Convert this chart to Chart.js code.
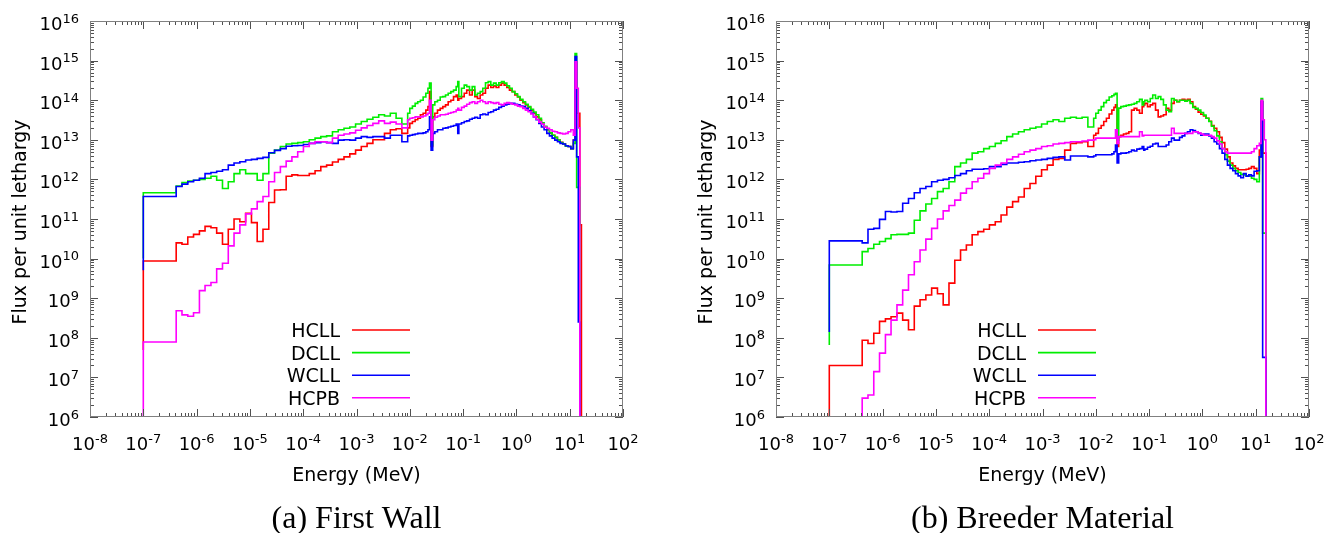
<!DOCTYPE html>
<html>
<head>
<meta charset="utf-8">
<title>Flux per unit lethargy</title>
<script src="https://cdn.jsdelivr.net/npm/chart.js@4.4.1/dist/chart.umd.min.js"></script>
<style>
  html, body { margin:0; padding:0; background:#ffffff; }
  body { width:1339px; height:533px; position:relative; overflow:hidden; }
  .panel { position:absolute; top:0; height:533px; }
  #p1 { left:0; width:668px; }
  #p2 { left:668px; width:671px; }
</style>
</head>
<body>
<div class="panel" id="p1"><canvas id="c1"></canvas></div>
<div class="panel" id="p2"><canvas id="c2"></canvas></div>
<script>
// ---- energy bin edges (MeV) ----
const energyEdges = [
  1e-7, 4.14e-7, 5.32e-7, 6.83e-7, 8.76e-7, 1.13e-6, 1.44e-6, 1.86e-6, 2.38e-6, 3.06e-6,
  3.93e-6, 5.04e-6, 6.48e-6, 8.32e-6, 1.07e-5, 1.37e-5, 1.76e-5, 2.26e-5, 2.90e-5, 3.73e-5,
  4.79e-5, 6.14e-5, 7.89e-5, 1.01e-4, 1.30e-4, 1.67e-4, 2.14e-4, 2.75e-4, 3.54e-4, 4.54e-4,
  5.83e-4, 7.49e-4, 9.61e-4, 1.23e-3, 1.58e-3, 2.03e-3, 2.61e-3, 3.35e-3, 4.31e-3, 5.53e-3,
  7.10e-3, 9.12e-3,
  1.00e-2, 1.12e-2, 1.26e-2, 1.41e-2, 1.58e-2, 1.78e-2, 2.00e-2, 2.19e-2, 2.34e-2, 2.51e-2,
  2.69e-2, 2.95e-2, 3.31e-2, 3.72e-2, 4.17e-2, 4.68e-2, 5.25e-2, 5.89e-2, 6.61e-2, 7.41e-2,
  7.94e-2, 8.32e-2, 9.33e-2, 0.105, 0.117, 0.132, 0.148, 0.166, 0.186, 0.209,
  0.234, 0.263, 0.295, 0.331, 0.372, 0.417, 0.468, 0.525, 0.589, 0.661,
  0.741, 0.832, 0.933, 1.05, 1.17, 1.32, 1.48, 1.66, 1.86, 2.09,
  2.34, 2.63, 2.95, 3.31, 3.72, 4.17, 4.68, 5.25, 5.89, 6.61,
  7.41, 8.32, 9.33, 10.5, 11.7, 12.6, 13.5, 14.5, 15.5, 16.6
];

const seriesNames = ['HCLL', 'DCLL', 'WCLL', 'HCPB'];

// ---- (a) First Wall: flux per unit lethargy in each bin ----
const fwHCLL = [
  8.7e9, 2.5e10, 2.3e10, 3.5e10, 4.1e10, 5.0e10, 6.5e10, 6.0e10, 4.4e10, 2.3e10,
  5.5e10, 1.0e11, 8.5e10, 1.4e11, 8.1e10, 2.7e10, 5.5e10, 2.6e11, 5.4e11, 5.5e11,
  1.2e12, 1.3e12, 1.26e12, 1.26e12, 1.4e12, 1.65e12, 2.1e12, 2.3e12, 2.75e12, 3.2e12,
  3.7e12, 4.4e12, 5.5e12, 6.8e12, 8.1e12, 1.0e13, 1.0e13, 1.45e13, 1.8e13, 1.9e13,
  1.45e13, 2.0e13,
  2.6e13, 2.9e13, 3.2e13, 3.5e13, 4.3e13, 4.7e13, 5.6e13, 6.9e13, 1.65e14, 6.8e12,
  3.8e13, 4.7e13, 5.6e13, 6.2e13, 6.9e13, 7.6e13, 9.1e13, 1.0e14, 1.23e14, 1.35e14,
  1.0e14, 1.1e14, 1.23e14, 1.5e14, 1.8e14, 1.35e14, 1.8e14, 1.23e14, 1.1e14, 1.35e14,
  1.5e14, 2.0e14, 2.4e14, 2.1e14, 2.3e14, 2.1e14, 2.4e14, 2.7e14, 2.4e14, 2.1e14,
  1.8e14, 1.65e14, 1.35e14, 1.2e14, 1.0e14, 8.7e13, 7.6e13, 6.6e13, 5.5e13, 4.7e13,
  3.8e13, 3.2e13, 2.6e13, 2.1e13, 1.8e13, 1.5e13, 1.3e13, 1.15e13, 9.8e12, 8.7e12,
  7.8e12, 7.1e12, 6.8e12, 6.0e12, 9.8e12, 9.3e14, 4.7e13, 4.7e13, 7.1e10
];
const fwDCLL = [
  4.6e11, 6.8e11, 8.3e11, 9.1e11, 9.5e11, 1.0e12, 1.07e12, 1.2e12, 9.5e11, 5.9e11,
  8.7e11, 1.4e12, 1.75e12, 1.4e12, 1.4e12, 9.5e11, 1.4e12, 4.6e12, 5.5e12, 6.8e12,
  7.8e12, 8.1e12, 8.5e12, 8.9e12, 1.0e13, 1.1e13, 1.2e13, 1.26e13, 1.6e13, 1.8e13,
  1.95e13, 2.1e13, 2.5e13, 2.9e13, 3.3e13, 3.7e13, 4.3e13, 4.0e13, 4.7e13, 3.5e13,
  2.5e13, 4.7e13,
  6.2e13, 7.1e13, 8.3e13, 9.1e13, 1.0e14, 1.2e14, 1.5e14, 2.0e14, 2.7e14, 7.4e12,
  7.6e13, 9.1e13, 1.0e14, 1.2e14, 1.23e14, 1.35e14, 1.5e14, 1.65e14, 1.8e14, 2.2e14,
  2.95e14, 1.23e14, 2.0e14, 2.4e14, 2.2e14, 1.8e14, 2.2e14, 1.35e14, 1.5e14, 1.65e14,
  2.0e14, 2.75e14, 2.95e14, 2.4e14, 2.7e14, 2.4e14, 2.75e14, 2.95e14, 2.7e14, 2.3e14,
  2.0e14, 1.65e14, 1.45e14, 1.23e14, 1.05e14, 9.1e13, 7.9e13, 6.9e13, 5.9e13, 5.0e13,
  4.3e13, 3.5e13, 2.7e13, 2.2e13, 1.8e13, 1.5e13, 1.3e13, 1.15e13, 9.8e12, 8.5e12,
  7.8e12, 6.9e12, 6.8e12, 6.0e12, 8.1e12, 1.5e15, 6.3e11, 6.3e11, 1
];
const fwWCLL = [
  3.7e11, 6.6e11, 7.6e11, 8.7e11, 9.5e11, 1.07e12, 1.4e12, 1.5e12, 1.6e12, 1.75e12,
  2.3e12, 2.6e12, 2.8e12, 3.1e12, 3.2e12, 3.4e12, 3.6e12, 4.7e12, 5.4e12, 6.0e12,
  6.9e12, 7.1e12, 7.2e12, 7.6e12, 8.1e12, 8.5e12, 8.9e12, 8.5e12, 8.1e12, 9.8e12,
  1.0e13, 9.8e12, 1.1e13, 1.2e13, 1.15e13, 1.2e13, 1.2e13, 1.1e13, 1.3e13, 1.3e13,
  8.9e12, 1.26e13,
  1.3e13, 1.35e13, 1.4e13, 1.45e13, 1.45e13, 1.5e13, 1.6e13, 1.8e13, 3.8e13, 5.5e12,
  1.45e13, 1.6e13, 1.8e13, 1.8e13, 1.95e13, 2.0e13, 2.1e13, 2.2e13, 2.3e13, 2.5e13,
  1.45e13, 2.5e13, 2.7e13, 2.9e13, 3.0e13, 3.3e13, 3.5e13, 3.7e13, 3.5e13, 4.3e13,
  4.5e13, 4.3e13, 4.9e13, 5.1e13, 5.6e13, 5.9e13, 6.6e13, 7.1e13, 7.6e13, 7.9e13,
  8.3e13, 8.3e13, 7.9e13, 7.6e13, 7.1e13, 6.9e13, 6.2e13, 5.5e13, 4.7e13, 3.8e13,
  3.2e13, 2.6e13, 2.1e13, 1.8e13, 1.45e13, 1.26e13, 1.1e13, 9.8e12, 8.9e12, 8.1e12,
  7.8e12, 7.1e12, 6.8e12, 6.0e12, 9.8e12, 1.26e15, 3.7e12, 2.5e8, 1
];
const fwHCPB = [
  7.8e7, 4.8e8, 3.8e8, 3.5e8, 4.3e8, 1.55e9, 2.1e9, 2.5e9, 5.5e9, 7.6e9,
  2.1e10, 4.4e10, 7.1e10, 1.35e11, 1.8e11, 2.75e11, 3.7e11, 8.7e11, 1.5e12, 2.1e12,
  2.9e12, 3.7e12, 5.0e12, 6.8e12, 8.1e12, 8.9e12, 8.9e12, 8.5e12, 1.1e13, 1.3e13,
  1.4e13, 1.5e13, 1.75e13, 2.0e13, 2.3e13, 2.6e13, 3.0e13, 2.6e13, 2.8e13, 2.5e13,
  2.0e13, 3.2e13,
  3.5e13, 3.6e13, 3.8e13, 3.8e13, 3.8e13, 4.0e13, 4.3e13, 4.7e13, 1.0e14, 9.8e12,
  3.2e13, 3.7e13, 4.0e13, 4.3e13, 4.3e13, 4.4e13, 4.7e13, 4.9e13, 5.1e13, 5.6e13,
  6.2e13, 5.6e13, 6.6e13, 7.1e13, 7.9e13, 8.7e13, 9.1e13, 8.3e13, 9.1e13, 1.0e14,
  9.1e13, 8.3e13, 9.1e13, 8.7e13, 8.3e13, 8.7e13, 7.9e13, 7.6e13, 8.3e13, 8.7e13,
  8.3e13, 7.9e13, 7.6e13, 7.1e13, 6.9e13, 6.2e13, 5.6e13, 5.1e13, 4.5e13, 3.8e13,
  3.3e13, 2.8e13, 2.5e13, 2.1e13, 1.95e13, 1.8e13, 1.65e13, 1.6e13, 1.5e13, 1.45e13,
  1.4e13, 1.45e13, 1.6e13, 1.8e13, 1.3e13, 9.3e14, 2.0e14, 2.0e13, 1
];
const fwStart = [4.9e7, 1.0e10, 5.1e9, 1];

// ---- (b) Breeder Material ----
const bmHCLL = [
  2.0e7, 8.7e7, 7.2e7, 1.3e8, 2.6e8, 3.0e8, 3.4e8, 4.2e8, 2.8e8, 1.6e8,
  6.3e8, 9.1e8, 1.2e9, 1.8e9, 1.3e9, 6.8e8, 2.4e9, 9.1e9, 1.65e10, 2.2e10,
  4.0e10, 4.8e10, 5.5e10, 7.1e10, 8.5e10, 1.26e11, 2.0e11, 2.75e11, 3.6e11, 5.9e11,
  7.9e11, 1.2e12, 1.75e12, 2.3e12, 3.2e12, 3.4e12, 5.5e12, 8.1e12, 8.5e12, 8.9e12,
  6.8e12, 1.3e13,
  1.45e13, 1.95e13, 2.3e13, 2.9e13, 3.5e13, 4.5e13, 5.6e13, 6.6e13, 7.6e13, 6.8e12,
  1.2e13, 1.3e13, 1.4e13, 1.45e13, 1.6e13, 5.6e13, 6.2e13, 5.6e13, 4.7e13, 6.9e13,
  7.6e13, 8.3e13, 6.9e13, 7.6e13, 8.3e13, 5.6e13, 3.8e13, 4.0e13, 4.3e13, 6.2e13,
  5.6e13, 8.3e13, 1.0e14, 9.1e13, 1.0e14, 1.05e14, 1.0e14, 1.05e14, 9.1e13, 6.9e13,
  5.9e13, 5.0e13, 4.4e13, 4.0e13, 3.5e13, 2.95e13, 2.3e13, 1.95e13, 1.6e13, 1.15e13,
  8.5e12, 5.8e12, 3.7e12, 2.6e12, 2.2e12, 1.9e12, 1.75e12, 1.75e12, 1.75e12, 1.8e12,
  1.9e12, 2.1e12, 1.9e12, 1.4e12, 5.5e12, 9.1e13, 4.6e12, 4.6e12, 1
];
const bmDCLL = [
  6.9e9, 1.5e10, 1.8e10, 2.3e10, 2.7e10, 3.2e10, 4.0e10, 4.1e10, 4.1e10, 4.4e10,
  9.3e10, 1.6e11, 2.4e11, 3.3e11, 4.9e11, 5.9e11, 8.7e11, 2.1e12, 2.6e12, 3.2e12,
  4.6e12, 5.0e12, 6.0e12, 6.8e12, 8.1e12, 9.5e12, 1.2e13, 1.4e13, 1.6e13, 1.8e13,
  1.95e13, 2.1e13, 2.5e13, 2.9e13, 3.2e13, 2.9e13, 3.5e13, 3.7e13, 3.5e13, 3.7e13,
  2.1e13, 3.5e13,
  4.7e13, 5.6e13, 6.9e13, 8.7e13, 1.0e14, 1.2e14, 1.3e14, 1.4e14, 1.5e14, 9.8e12,
  6.3e13, 6.9e13, 7.1e13, 7.4e13, 7.6e13, 7.9e13, 8.3e13, 9.1e13, 1.05e14, 7.6e13,
  9.1e13, 1.0e14, 9.1e13, 1.1e14, 1.35e14, 1.1e14, 1.23e14, 1.05e14, 7.6e13, 5.6e13,
  5.1e13, 1.1e14, 1.0e14, 9.1e13, 1.0e14, 1.0e14, 9.5e13, 1.0e14, 8.3e13, 6.6e13,
  6.2e13, 5.6e13, 4.9e13, 4.2e13, 3.5e13, 2.9e13, 2.2e13, 1.7e13, 1.26e13, 8.9e12,
  6.0e12, 4.2e12, 2.9e12, 2.3e12, 1.9e12, 1.65e12, 1.5e12, 1.35e12, 1.3e12, 1.23e12,
  1.2e12, 1.07e12, 1.0e12, 8.7e11, 3.7e12, 1.1e14, 4.4e10, 4.4e10, 1
];
const bmWCLL = [
  2.8e10, 2.5e10, 5.5e10, 5.8e10, 9.8e10, 1.55e11, 1.5e11, 1.55e11, 2.5e11, 3.3e11,
  4.6e11, 5.9e11, 6.6e11, 8.7e11, 9.5e11, 1.0e12, 1.1e12, 1.26e12, 1.4e12, 1.65e12,
  1.8e12, 1.8e12, 1.85e12, 2.1e12, 2.1e12, 2.4e12, 2.6e12, 2.6e12, 2.7e12, 2.8e12,
  2.95e12, 3.1e12, 3.2e12, 3.4e12, 3.6e12, 3.7e12, 3.1e12, 3.9e12, 3.9e12, 3.9e12,
  3.7e12, 3.9e12,
  4.2e12, 4.2e12, 4.2e12, 4.2e12, 4.2e12, 4.2e12, 4.4e12, 5.0e12, 7.4e12, 2.6e12,
  4.4e12, 4.6e12, 4.6e12, 4.7e12, 5.0e12, 5.5e12, 5.2e12, 5.8e12, 6.0e12, 6.8e12,
  5.5e12, 5.8e12, 6.5e12, 6.9e12, 7.8e12, 8.1e12, 6.8e12, 6.8e12, 6.8e12, 7.4e12,
  8.9e12, 1.1e13, 9.8e12, 9.8e12, 1.15e13, 1.26e13, 1.45e13, 1.6e13, 1.8e13, 1.7e13,
  1.6e13, 1.45e13, 1.3e13, 1.4e13, 1.4e13, 1.26e13, 1.1e13, 8.9e12, 7.8e12, 6.0e12,
  4.6e12, 3.2e12, 2.3e12, 1.9e12, 1.65e12, 1.4e12, 1.23e12, 1.1e12, 1.4e12, 1.2e12,
  1.3e12, 1.23e12, 1.6e12, 1.65e12, 3.7e12, 9.1e13, 3.2e7, 3.2e7, 1
];
const bmHCPB = [
  1, 3.0e6, 3.6e6, 1.4e7, 4.1e7, 1.2e8, 2.8e8, 6.8e8, 1.6e9, 3.9e9,
  8.3e9, 1.65e10, 3.1e10, 5.8e10, 1.0e11, 1.6e11, 2.2e11, 3.0e11, 4.5e11, 5.9e11,
  8.7e11, 1.07e12, 1.4e12, 1.9e12, 2.3e12, 2.6e12, 3.2e12, 3.7e12, 4.3e12, 5.0e12,
  5.5e12, 6.0e12, 6.8e12, 7.1e12, 7.8e12, 8.1e12, 8.5e12, 8.9e12, 8.9e12, 9.3e12,
  9.8e12, 1.0e13,
  1.1e13, 1.1e13, 1.1e13, 1.1e13, 1.1e13, 1.1e13, 1.1e13, 1.1e13, 1.8e13, 8.1e12,
  1.2e13, 1.2e13, 1.2e13, 1.2e13, 1.2e13, 1.2e13, 1.2e13, 1.2e13, 1.6e13, 1.26e13,
  1.3e13, 1.3e13, 1.3e13, 1.3e13, 1.3e13, 1.3e13, 1.3e13, 1.3e13, 1.3e13, 1.3e13,
  1.3e13, 1.95e13, 1.45e13, 1.45e13, 1.45e13, 1.45e13, 1.45e13, 1.45e13, 1.45e13, 1.6e13,
  1.6e13, 1.5e13, 1.4e13, 1.3e13, 1.3e13, 1.3e13, 1.2e13, 1.1e13, 9.5e12, 7.8e12,
  6.0e12, 5.0e12, 4.6e12, 4.6e12, 4.6e12, 4.6e12, 4.6e12, 4.6e12, 4.6e12, 4.6e12,
  4.6e12, 5.0e12, 6.0e12, 7.1e12, 8.1e12, 1.0e14, 3.2e13, 1.0e13, 1
];
const bmStart = [1, 6.6e7, 1.4e8, 1];

// ---- axis ticks / texts ----
const xTickExps = ['-8', '-7', '-6', '-5', '-4', '-3', '-2', '-1', '0', '1', '2'];
const yTickExps = ['6', '7', '8', '9', '10', '11', '12', '13', '14', '15', '16'];
const xTitle = 'Energy (MeV)';
const yTitle = 'Flux per unit lethargy';
const captions = ['(a) First Wall', '(b) Breeder Material'];

// ---- styles ----
const lineColors = ['#ff0000', '#00ee00', '#0000ff', '#ff00ff'];
const FONT = '"DejaVu Sans", Verdana, sans-serif';
const belowAxis = 1;

function stepPoints(start, vals) {
  const pts = [{ x: energyEdges[0], y: start }];
  for (let i = 0; i < vals.length; i++) pts.push({ x: energyEdges[i], y: vals[i] });
  pts.push({ x: energyEdges[vals.length], y: belowAxis });
  return pts;
}

const decor = {
  id: 'decor',
  afterDraw(chart, args, opts) {
    const ctx = chart.ctx, a = chart.chartArea, xs = chart.scales.x, ys = chart.scales.y;
    ctx.save();
    // tick marks (inside, mirrored)
    ctx.lineWidth = 1;
    ctx.strokeStyle = '#505050';
    ctx.beginPath();
    const xLast = Number(xTickExps[xTickExps.length - 1]);
    for (const es of xTickExps) {
      const e = Number(es);
      for (let m = 1; m <= 9; m++) {
        if (e === xLast && m > 1) break;
        const px = Math.round(xs.getPixelForValue(m * Math.pow(10, e))) + 0.5;
        const len = m === 1 ? 8 : 4;
        ctx.moveTo(px, a.bottom); ctx.lineTo(px, a.bottom - len);
        ctx.moveTo(px, a.top); ctx.lineTo(px, a.top + len);
      }
    }
    const yLast = Number(yTickExps[yTickExps.length - 1]);
    for (const es of yTickExps) {
      const e = Number(es);
      for (let m = 1; m <= 9; m++) {
        if (e === yLast && m > 1) break;
        const py = Math.round(ys.getPixelForValue(m * Math.pow(10, e))) + 0.5;
        const len = m === 1 ? 8 : 4;
        ctx.moveTo(a.left, py); ctx.lineTo(a.left + len, py);
        ctx.moveTo(a.right, py); ctx.lineTo(a.right - len, py);
      }
    }
    ctx.stroke();
    // frame
    ctx.strokeStyle = '#808080';
    ctx.strokeRect(Math.round(a.left) + 0.5, Math.round(a.top) + 0.5,
                   Math.round(a.right - a.left) - 1, Math.round(a.bottom - a.top) - 1);

    // tick labels
    ctx.fillStyle = '#000';
    ctx.textAlign = 'left';
    ctx.textBaseline = 'alphabetic';
    const baseFont = '18px ' + FONT, supFont = '13px ' + FONT;
    ctx.font = baseFont;
    const wb = ctx.measureText('10').width;
    for (const es of xTickExps) {
      const px = xs.getPixelForValue(Math.pow(10, Number(es)));
      ctx.font = supFont;
      const we = ctx.measureText(es).width;
      const x0 = px - (wb + we) / 2;
      ctx.font = baseFont; ctx.fillText('10', x0, a.bottom + 33);
      ctx.font = supFont; ctx.fillText(es, x0 + wb, a.bottom + 26);
    }
    for (const es of yTickExps) {
      const py = ys.getPixelForValue(Math.pow(10, Number(es)));
      ctx.font = supFont;
      const we = ctx.measureText(es).width;
      const x0 = a.left - 11 - wb - we;
      ctx.font = baseFont; ctx.fillText('10', x0, py + 9);
      ctx.font = supFont; ctx.fillText(es, x0 + wb, py + 1.5);
    }

    // axis titles
    ctx.font = '19px ' + FONT;
    ctx.textAlign = 'center';
    ctx.fillText(xTitle, (a.left + a.right) / 2, a.bottom + 64);
    ctx.save();
    ctx.translate(a.left - 64, (a.top + a.bottom) / 2 + 3);
    ctx.rotate(-Math.PI / 2);
    ctx.fillText(yTitle, 0, 0);
    ctx.restore();

    // legend
    ctx.font = '19px ' + FONT;
    ctx.textAlign = 'right';
    chart.data.datasets.forEach((ds, i) => {
      const ly = a.top + 309 + i * 22.6;
      ctx.fillStyle = '#000';
      ctx.fillText(ds.label, a.left + 250, ly + 7);
      ctx.strokeStyle = ds.borderColor;
      ctx.lineWidth = 1.6;
      ctx.beginPath();
      ctx.moveTo(a.left + 262, ly);
      ctx.lineTo(a.left + 320, ly);
      ctx.stroke();
    });

    // caption
    ctx.fillStyle = '#000';
    ctx.textAlign = 'center';
    ctx.font = '32px "Liberation Serif", "Times New Roman", serif';
    ctx.fillText(opts.caption, (a.left + a.right) / 2, 528);
    ctx.restore();
  }
};

function makeChart(id, pad, series, starts, caption) {
  return new Chart(document.getElementById(id), {
    type: 'line',
    data: {
      datasets: series.map((vals, i) => ({
        label: seriesNames[i],
        data: stepPoints(starts[i], vals),
        borderColor: lineColors[i],
        backgroundColor: lineColors[i],
        borderWidth: 1.6,
        stepped: true,
        pointRadius: 0,
        fill: false,
        order: 4 - i
      }))
    },
    options: {
      responsive: true,
      maintainAspectRatio: false,
      animation: false,
      devicePixelRatio: 1,
      events: [],
      layout: { padding: pad },
      plugins: {
        legend: { display: false },
        tooltip: { enabled: false },
        decor: { caption: caption }
      },
      scales: {
        x: { type: 'logarithmic', min: 1e-8, max: 1e2, display: false },
        y: { type: 'logarithmic', min: 1e6, max: 1e16, display: false }
      }
    },
    plugins: [decor]
  });
}

makeChart('c1', { left: 90, right: 45, top: 21, bottom: 116 },
  [fwHCLL, fwDCLL, fwWCLL, fwHCPB], fwStart, captions[0]);
makeChart('c2', { left: 108, right: 30, top: 21, bottom: 116 },
  [bmHCLL, bmDCLL, bmWCLL, bmHCPB], bmStart, captions[1]);
</script>
</body>
</html>
